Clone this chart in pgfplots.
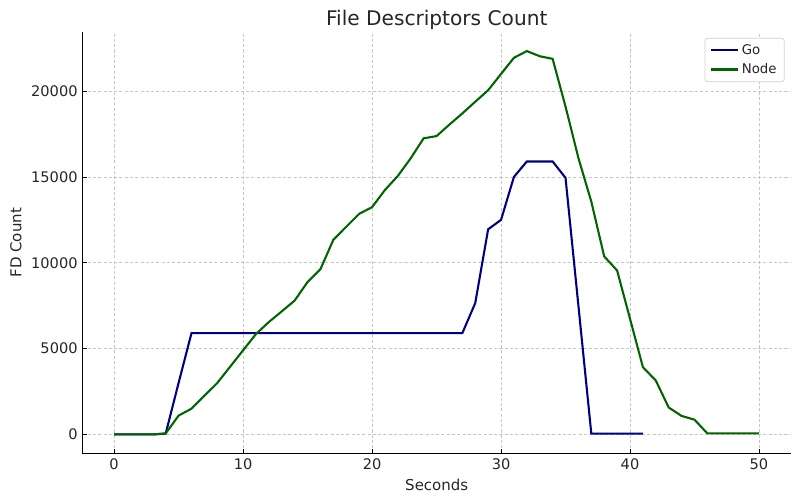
\documentclass[border=0pt]{standalone}
\usepackage{fontspec}
\setmainfont{DejaVu Sans}
\usepackage{pgfplots}
\pgfplotsset{compat=1.18}

\definecolor{gocol}{RGB}{0,0,128}
\definecolor{nodecol}{RGB}{0,100,0}
\definecolor{txt}{RGB}{38,38,38}

\begin{document}
\begin{tikzpicture}
\useasboundingbox (-59.4pt,-35.5pt) rectangle (516.6pt,326.6pt);
\begin{axis}[
  scale only axis,
  width=510.1pt, height=303.6pt,
  at={(0,0)}, anchor=south west,
  xmin=-2.45, xmax=52.48,
  ymin=-1116, ymax=23446,
  axis lines*=left,
  axis line style={black, line width=0.8pt},
  xtick={0,10,...,50},
  ytick={0,5000,10000,15000,20000},
  scaled y ticks=false,
  /pgf/number format/.cd, set thousands separator={}, assume math mode=true,
  /pgfplots/.cd,
  tick align=inside,
  major tick length=3pt,
  tick style={black, line width=0.6pt},
  ticklabel style={font=\fontsize{10.5}{12}\selectfont, text=txt},
  grid=major,
  grid style={gray!45, line width=0.5pt, dash pattern=on 2.2pt off 1.6pt},
  every axis title shift=0pt,
  title={File Descriptors Count},
  title style={font=\fontsize{14.5}{17}\selectfont, text=txt,
    at={(axis description cs:0.5,1)}, anchor=base, yshift=5pt},
  xlabel={Seconds},
  xlabel style={font=\fontsize{10.8}{13}\selectfont, text=txt,
    at={(axis description cs:0.5,0)}, anchor=base, yshift=-26.6pt},
  ylabel={FD Count},
  ylabel style={font=\fontsize{10.8}{13}\selectfont, text=txt,
    at={(axis description cs:0,0.5)}, anchor=base, rotate=0, xshift=0pt, yshift=44pt},
  legend style={at={(0.991,0.986)}, anchor=north east,
    draw=gray!35, rounded corners=2pt, line width=0.5pt,
    font=\fontsize{9.6}{11.5}\selectfont, text=txt,
    inner xsep=3.5pt, inner ysep=2.5pt, row sep=1pt},
  legend cell align=left,
  legend image code/.code={\draw[#1] (0pt,0pt) -- (19.5pt,0pt);},
]
\addplot[gocol, line width=1.5pt] coordinates {
(0,0) (1,0) (2,0) (3,0) (4,50) (5,3000) (6,5900) (7,5900) (8,5900) (9,5900)
(10,5900) (11,5900) (12,5900) (13,5900) (14,5900) (15,5900) (16,5900)
(17,5900) (18,5900) (19,5900) (20,5900) (21,5900) (22,5900) (23,5900)
(24,5900) (25,5900) (26,5900) (27,5900) (28,7650) (29,11950) (30,12500)
(31,15000) (32,15900) (33,15900) (34,15900) (35,14950) (36,7500) (37,50)
(38,50) (39,50) (40,50) (41,50)
};
\addlegendentry{Go}
\addplot[nodecol, line width=1.5pt] coordinates {
(0,0) (1,0) (2,0) (3,0) (4,60) (5,1100) (6,1500) (7,2250) (8,3000) (9,3950)
(10,4900) (11,5850) (12,6550) (13,7170) (14,7800) (15,8880) (16,9630)
(17,11340) (18,12100) (19,12850) (20,13240) (21,14240) (22,15060) (23,16090)
(24,17250) (25,17380) (26,18050) (27,18700) (28,19380) (29,20050) (30,21000)
(31,21940) (32,22330) (33,22030) (34,21880) (35,19100) (36,16100) (37,13560)
(38,10370) (39,9550) (40,6740) (41,3920) (42,3140) (43,1570) (44,1080)
(45,860) (46,60) (47,60) (48,60) (49,60) (50,60)
};
\addlegendentry{Node}
\end{axis}
\end{tikzpicture}
\end{document}
